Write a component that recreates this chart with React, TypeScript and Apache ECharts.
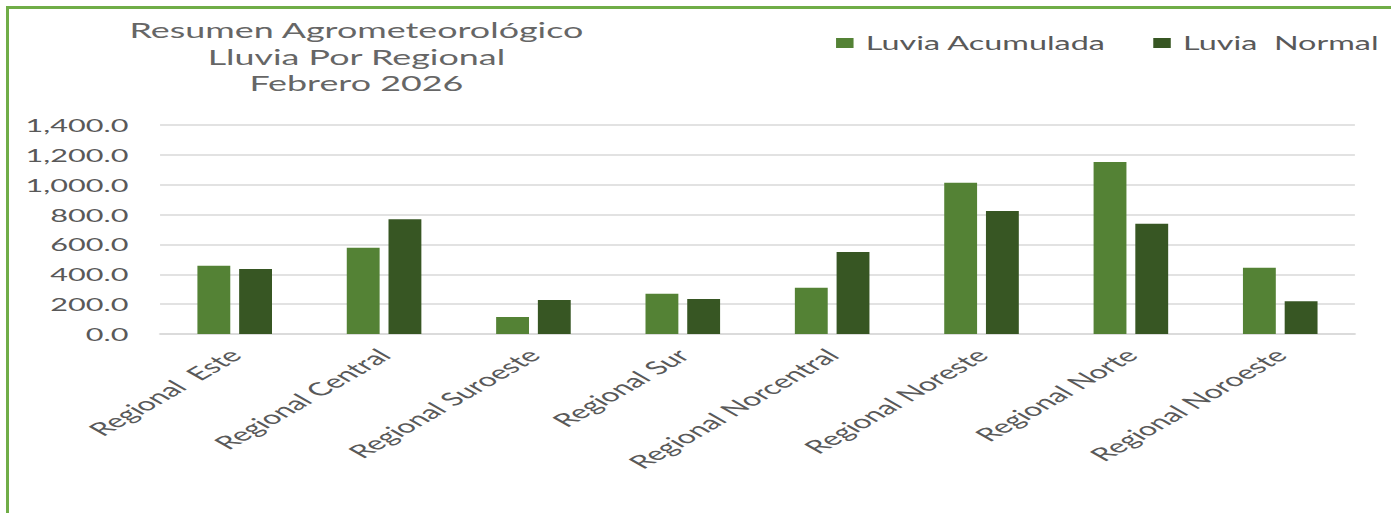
import React, { useEffect, useRef } from 'react';
import * as echarts from 'echarts';

const titleLines = ['Resumen Agrometeorológico', 'Lluvia Por Regional', 'Febrero 2026'];
const categories = [
  'Regional  Este',
  'Regional Central',
  'Regional Suroeste',
  'Regional Sur',
  'Regional Norcentral',
  'Regional Noreste',
  'Regional Norte',
  'Regional Noroeste',
];
const seriesNames = ['Luvia Acumulada', 'Luvia  Normal'];
const acumulada = [457, 578, 114, 270, 310, 1013, 1152, 444];
const normal = [435, 768, 228, 234, 549, 824, 739, 219];
const yMin = 0;
const yMax = 1400;
const yStep = 200;

const STRETCH = 1.75;
const FONT = 'Lato, "Open Sans", sans-serif';
const TEXT = '#595959';

export default function App() {
  const ref = useRef<HTMLDivElement>(null);
  useEffect(() => {
    const chart = echarts.init(ref.current!, null, { renderer: 'svg' });
    chart.setOption({
      animation: false,
      backgroundColor: '#ffffff',
      textStyle: { fontFamily: FONT },
      title: {
        text: titleLines.join('\n'),
        left: 193.5,
        top: 3,
        textAlign: 'center',
        textStyle: {
          fontFamily: FONT,
          fontSize: 20.5,
          fontWeight: 'normal',
          color: '#666666',
          lineHeight: 26.5,
        },
      },
      legend: {
        data: seriesNames,
        orient: 'horizontal',
        left: 472.6,
        top: 24,
        width: 340,
        padding: 0,
        itemWidth: 10,
        itemHeight: 10,
        itemGap: 27,
        icon: 'rect',
        textStyle: {
          fontFamily: FONT,
          fontSize: 18.5,
          color: TEXT,
          lineHeight: 20,
          padding: [0, 0, 0, 2],
        },
      },
      grid: { left: 86.3, right: 20.9, top: 116, bottom: 179, containLabel: false },
      xAxis: {
        type: 'category',
        data: categories,
        axisLine: { show: true, lineStyle: { color: '#d9d9d9', width: 1.5 } },
        axisTick: { show: false },
        axisLabel: {
          rotate: 45,
          margin: 18,
          fontFamily: FONT,
          fontSize: 18.5,
          color: TEXT,
          interval: 0,
        },
      },
      yAxis: {
        type: 'value',
        min: yMin,
        max: yMax,
        interval: yStep,
        axisLine: { show: false },
        axisTick: { show: false },
        splitLine: { lineStyle: { color: '#d9d9d9', width: 1.5 } },
        axisLabel: {
          margin: 18,
          fontFamily: FONT,
          fontSize: 17.5,
          color: TEXT,
          formatter: (v: number) =>
            v.toLocaleString('en-US', { minimumFractionDigits: 1, maximumFractionDigits: 1 }),
        },
      },
      series: [
        {
          name: seriesNames[0],
          type: 'bar',
          data: acumulada,
          barWidth: '22%',
          barGap: '27%',
          itemStyle: { color: '#548235' },
        },
        {
          name: seriesNames[1],
          type: 'bar',
          data: normal,
          barWidth: '22%',
          barGap: '27%',
          itemStyle: { color: '#375623' },
        },
      ],
    });
    return () => chart.dispose();
  }, []);
  return (
    <div
      style={{
        position: 'fixed',
        left: 6,
        top: 6,
        width: 1385,
        height: 507,
        boxSizing: 'border-box',
        borderLeft: '3px solid #70AD47',
        borderTop: '3px solid #70AD47',
        overflow: 'hidden',
        background: '#ffffff',
      }}
    >
      <div
        ref={ref}
        style={{
          width: 790,
          height: 504,
          transform: `scaleX(${STRETCH})`,
          transformOrigin: '0 0',
        }}
      />
    </div>
  );
}
